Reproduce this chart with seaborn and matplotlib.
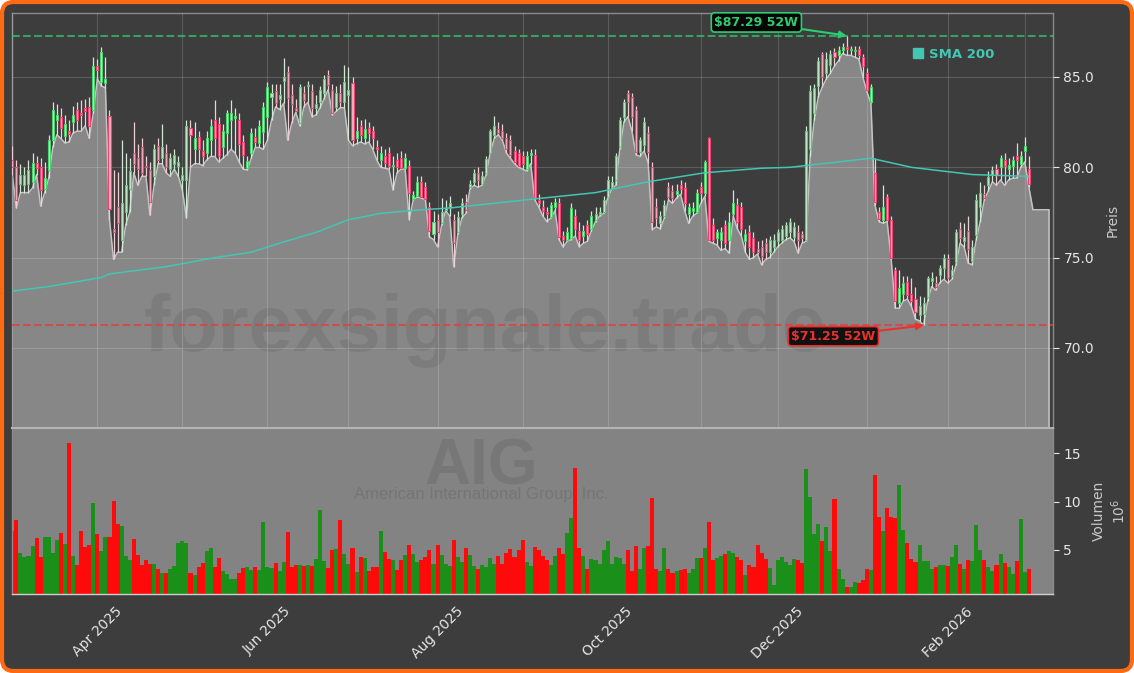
import numpy as np
import pandas as pd
import matplotlib
matplotlib.use("Agg")
import matplotlib.pyplot as plt
import seaborn as sns
from matplotlib.patches import FancyBboxPatch
from matplotlib.lines import Line2D
from matplotlib.ticker import FormatStrFormatter

# ---------------- data (AIG daily, Mar 2025 - Mar 2026, trading-day index) ----------------
opens = [
    80.4, 80.0, 79.1, 79.0, 79.1, 79.2, 80.25, 80.0, 78.8, 79.85,
    81.5, 82.6, 82.8, 81.75, 82.0, 82.5, 83.2, 83.0, 83.3, 83.35,
    83.2, 85.6, 84.7, 84.65, 82.85, 76.6, 77.8, 76.0, 77.5, 78.8,
    80.8, 80.5, 81.1, 80.1, 79.85, 79.5, 81.2, 80.5, 80.8, 79.9,
    80.2, 80.1, 79.3, 79.3, 82.2, 81.0, 81.7, 80.9, 80.8, 81.5,
    82.6, 82.4, 81.1, 81.9, 82.6, 82.75, 82.6, 81.4, 79.95, 80.8,
    81.7, 81.35, 81.95, 82.8, 83.9, 84.2, 83.8, 84.8, 85.3, 84.0,
    83.3, 82.45, 84.1, 84.5, 84.2, 83.3, 83.6, 84.1, 85.1, 84.3,
    83.35, 84.1, 83.6, 84.0, 84.65, 81.6, 82.3, 81.6, 82.2, 82.0,
    81.1, 80.4, 80.6, 80.8, 80.05, 80.4, 80.5, 79.95, 80.1, 78.25,
    78.4, 79.2, 78.9, 77.8, 76.3, 77.1, 76.9, 77.65, 77.8, 77.1,
    76.4, 77.4, 78.1, 78.9, 79.2, 79.7, 79.1, 79.7, 80.8, 81.8,
    82.1, 82.0, 81.6, 81.5, 80.9, 80.8, 80.6, 79.9, 80.7, 80.7,
    78.2, 77.8, 77.5, 77.25, 77.8, 78.0, 76.2, 76.0, 76.1, 77.3,
    76.5, 76.2, 76.8, 76.6, 77.1, 77.4, 77.5, 78.35, 78.9, 79.3,
    81.1, 82.8, 84.1, 83.9, 83.2, 80.85, 81.25, 81.9, 80.0, 77.8,
    76.9, 77.3, 78.9, 78.7, 78.5, 79.0, 78.85, 77.4, 77.6, 77.5,
    78.9, 78.6, 81.6, 76.8, 76.1, 76.0, 76.8, 76.0, 77.4, 77.9,
    77.8, 75.9, 76.4, 76.1, 75.5, 75.6, 75.8, 75.3, 75.6, 75.9,
    76.0, 76.2, 76.4, 76.15, 76.4, 76.3, 76.0, 81.0, 83.0, 84.5,
    86.3, 85.2, 85.65, 86.4, 86.2, 86.5, 86.65, 86.5, 86.45, 86.55,
    86.1, 85.2, 83.6, 79.7, 77.5, 77.1, 78.35, 77.1, 74.3, 72.5,
    73.0, 73.65, 73.0, 72.7, 71.8, 71.9, 72.8, 73.7, 73.6, 74.05,
    74.4, 74.9, 74.0, 74.75, 76.6, 75.9, 76.5, 74.8, 76.25, 77.8,
    78.55, 79.0, 79.6, 79.9, 80.0, 80.4, 79.9, 80.1, 80.6, 80.2,
    80.9, 79.9]

highs = [
    81.2, 80.4, 80.2, 80.0, 80.4, 80.8, 80.6, 80.5, 80.3, 81.8,
    83.6, 83.5, 83.3, 82.9, 82.6, 83.4, 83.6, 83.7, 83.8, 83.9,
    86.1, 86.0, 86.66, 86.1, 83.2, 79.85, 79.75, 81.5, 80.8, 80.5,
    82.5, 81.3, 81.6, 80.6, 80.3, 81.3, 81.6, 82.4, 81.3, 80.8,
    81.0, 80.6, 80.0, 82.6, 82.6, 82.5, 82.0, 81.5, 82.0, 82.7,
    83.7, 82.8, 82.4, 83.2, 83.7, 83.3, 83.0, 81.8, 80.6, 82.2,
    82.2, 82.6, 83.6, 84.7, 84.6, 84.6, 84.6, 86.05, 85.6, 84.6,
    83.8, 84.6, 84.5, 84.8, 84.6, 84.0, 84.5, 85.1, 85.4, 84.6,
    84.5, 84.6, 85.66, 85.55, 85.0, 82.8, 82.6, 82.7, 82.5, 82.3,
    81.5, 81.2, 81.0, 81.1, 80.6, 80.8, 80.9, 80.8, 80.4, 78.7,
    79.5, 79.5, 79.2, 78.1, 77.6, 77.4, 78.3, 78.2, 78.4, 77.4,
    77.6, 78.3, 78.5, 79.3, 79.9, 80.0, 79.8, 80.6, 82.1, 82.85,
    82.5, 82.4, 81.9, 81.8, 81.2, 81.0, 80.9, 80.9, 81.0, 81.0,
    78.5, 78.2, 77.8, 78.1, 78.3, 78.3, 76.5, 76.7, 78.0, 77.7,
    77.0, 76.8, 77.1, 77.6, 77.8, 77.8, 78.4, 79.5, 79.5, 80.8,
    82.8, 83.8, 84.3, 84.1, 83.4, 81.7, 82.8, 82.3, 80.3, 78.3,
    77.6, 78.2, 79.2, 79.0, 79.1, 79.3, 79.2, 78.0, 78.1, 78.8,
    79.2, 80.4, 81.7, 77.2, 76.6, 76.7, 77.1, 77.5, 78.75, 78.3,
    78.1, 76.6, 76.8, 76.4, 75.9, 76.0, 76.1, 76.2, 76.3, 76.6,
    76.8, 77.0, 77.2, 77.0, 76.8, 76.5, 82.3, 84.55, 84.6, 86.1,
    86.4, 86.4, 86.5, 86.6, 86.7, 86.9, 87.29, 86.7, 86.7, 86.7,
    86.3, 85.5, 84.6, 80.5, 77.8, 79.0, 78.5, 77.3, 74.5, 74.3,
    74.0, 74.0, 73.9, 73.4, 72.9, 72.8, 74.0, 74.2, 74.0, 74.6,
    75.2, 75.2, 74.6, 76.6, 77.0, 76.9, 77.3, 76.0, 78.5, 79.2,
    79.0, 79.8, 80.1, 80.2, 80.7, 80.8, 80.5, 80.6, 81.35, 80.9,
    81.7, 80.6]

lows = [
    79.6, 77.75, 78.6, 78.6, 78.6, 78.85, 79.6, 77.85, 78.6, 79.4,
    81.1, 81.8, 81.6, 81.35, 81.4, 81.9, 82.0, 82.0, 82.3, 81.6,
    83.0, 84.9, 84.5, 84.4, 77.1, 74.9, 75.3, 75.3, 76.8, 77.5,
    79.7, 79.0, 79.5, 79.5, 77.35, 79.0, 80.2, 80.2, 79.7, 79.5,
    79.9, 79.5, 78.75, 77.2, 80.0, 80.2, 80.2, 80.1, 80.4, 80.6,
    80.6, 80.3, 80.5, 80.7, 81.0, 80.8, 80.3, 79.9, 79.85, 80.5,
    81.1, 81.1, 81.0, 81.5, 82.6, 83.35, 83.2, 83.55, 81.5, 82.45,
    83.05, 82.3, 83.35, 83.6, 82.8, 82.9, 83.3, 83.8, 84.3, 82.9,
    83.1, 83.3, 83.3, 81.5, 81.2, 81.3, 81.4, 81.3, 81.4, 81.0,
    80.4, 80.0, 79.95, 79.9, 78.75, 79.7, 79.9, 79.9, 77.1, 78.2,
    78.35, 78.3, 78.2, 76.15, 76.0, 75.6, 76.8, 77.6, 77.3, 74.5,
    76.3, 77.2, 77.45, 78.8, 79.0, 78.9, 79.0, 79.6, 80.8, 81.6,
    81.8, 81.5, 80.8, 80.5, 80.2, 80.0, 79.9, 79.8, 80.2, 78.2,
    77.8, 77.3, 77.0, 77.2, 77.6, 76.0, 75.6, 75.9, 76.0, 76.2,
    75.6, 75.8, 75.9, 76.5, 77.0, 77.3, 77.45, 78.3, 78.8, 79.0,
    81.0, 82.5, 82.8, 82.0, 80.7, 80.6, 80.9, 80.25, 76.55, 76.7,
    76.6, 77.2, 78.2, 78.0, 78.3, 78.5, 77.6, 76.9, 77.3, 77.45,
    78.0, 78.4, 75.9, 75.8, 75.7, 75.4, 75.5, 75.25, 77.3, 76.6,
    76.2, 75.3, 74.9, 75.0, 75.2, 74.6, 74.9, 75.0, 75.3, 75.6,
    75.8, 76.0, 76.1, 75.9, 75.25, 75.8, 75.9, 80.6, 82.6, 83.9,
    84.45, 84.9, 85.2, 85.6, 85.9, 86.3, 86.2, 86.2, 86.1, 86.0,
    85.0, 84.2, 83.55, 77.9, 77.0, 76.9, 77.0, 74.9, 72.2, 72.2,
    72.6, 72.7, 72.3, 71.6, 71.5, 71.25, 72.6, 73.4, 73.2, 73.6,
    73.8, 73.6, 73.8, 74.6, 75.8, 75.6, 74.7, 74.6, 76.0, 77.0,
    78.2, 78.7, 79.2, 79.0, 79.3, 79.0, 79.3, 79.4, 79.4, 80.0,
    80.3, 78.9]

closes = [
    80.0, 78.2, 79.6, 79.6, 79.85, 80.25, 79.95, 78.75, 79.4, 81.5,
    83.2, 82.9, 82.2, 82.4, 81.85, 82.9, 82.6, 82.9, 83.1, 82.3,
    85.6, 85.4, 86.4, 84.9, 77.7, 76.4, 76.9, 78.0, 79.0, 79.8,
    80.2, 79.9, 79.7, 80.0, 78.1, 81.0, 80.4, 81.1, 80.0, 80.5,
    80.7, 80.3, 79.6, 82.3, 81.8, 81.6, 81.0, 80.6, 81.6, 82.3,
    81.6, 80.6, 82.0, 83.0, 83.0, 82.85, 81.3, 80.7, 80.35, 81.9,
    81.4, 82.3, 83.35, 84.45, 84.1, 83.55, 84.0, 85.0, 83.85, 83.5,
    83.1, 84.45, 83.7, 84.55, 83.3, 83.5, 84.3, 84.9, 84.55, 83.0,
    84.1, 83.6, 84.7, 84.3, 81.5, 82.0, 81.8, 82.1, 81.9, 81.6,
    81.0, 80.8, 80.25, 80.1, 80.15, 80.0, 79.95, 80.5, 78.6, 78.45,
    79.2, 78.35, 78.25, 76.5, 77.0, 76.4, 77.5, 77.75, 78.0, 75.8,
    77.25, 78.0, 77.65, 79.1, 79.7, 79.3, 79.5, 80.45, 82.0, 82.3,
    81.9, 81.6, 81.0, 80.7, 80.3, 80.1, 80.2, 80.6, 80.8, 78.3,
    78.0, 77.6, 77.4, 77.9, 78.1, 76.15, 76.0, 76.4, 77.75, 76.6,
    76.0, 76.5, 76.3, 77.3, 77.4, 77.55, 78.2, 79.3, 79.2, 80.6,
    82.6, 83.6, 83.6, 82.8, 80.85, 81.5, 82.5, 80.85, 77.0, 77.2,
    77.3, 77.9, 78.35, 78.3, 78.7, 78.8, 78.0, 77.8, 77.75, 78.6,
    78.6, 80.3, 76.0, 76.0, 76.4, 76.4, 75.8, 77.0, 78.0, 77.0,
    76.6, 76.3, 75.6, 75.3, 75.3, 75.1, 75.3, 76.0, 76.0, 76.4,
    76.6, 76.8, 77.0, 76.7, 76.0, 76.1, 82.0, 84.2, 84.4, 85.9,
    85.0, 86.0, 86.3, 86.1, 86.5, 86.65, 86.55, 86.55, 86.5, 86.2,
    85.6, 84.3, 84.45, 78.1, 77.15, 77.8, 77.1, 75.0, 72.6, 73.3,
    73.6, 72.95, 72.6, 72.0, 72.3, 72.5, 73.9, 73.9, 73.4, 74.4,
    75.0, 73.9, 74.3, 76.4, 76.1, 76.15, 75.5, 75.6, 78.2, 78.6,
    78.3, 79.45, 79.85, 79.6, 80.5, 80.1, 80.15, 80.4, 80.4, 80.6,
    81.2, 79.1]

volumes = [  # millions of shares
    7.0, 8.1, 4.7, 4.27, 4.4, 5.4, 6.2, 4.3, 6.3, 6.3,
    4.7, 6.0, 6.8, 5.65, 16.0, 4.4, 3.44, 7.0, 5.3, 5.5,
    9.8, 6.7, 4.9, 6.3, 6.35, 10.1, 7.7, 7.5, 4.4, 3.96,
    6.1, 4.5, 3.44, 3.96, 3.6, 3.6, 3.05, 2.6, 2.6, 3.05,
    3.33, 5.77, 5.94, 5.7, 2.6, 2.4, 3.26, 3.7, 4.9, 5.24,
    3.26, 4.2, 2.8, 2.47, 2.05, 2.05, 2.6, 3.15, 3.26, 2.9,
    3.26, 2.9, 7.85, 3.26, 3.15, 3.7, 2.8, 3.8, 6.9, 3.26,
    3.44, 3.44, 3.33, 3.4, 3.33, 4.1, 9.17, 3.85, 3.15, 5.0,
    5.1, 8.1, 4.6, 3.5, 5.24, 2.7, 4.3, 4.2, 2.8, 3.26,
    3.26, 7.0, 4.8, 4.1, 3.96, 2.9, 4.0, 4.5, 5.5, 4.6,
    3.8, 4.0, 4.3, 5.0, 3.6, 5.5, 4.5, 3.5, 3.3, 6.0,
    4.3, 3.8, 5.2, 4.5, 3.3, 3.0, 3.4, 3.2, 4.2, 3.6,
    4.4, 3.5, 4.7, 5.1, 4.3, 5.0, 6.0, 3.8, 3.3, 5.3,
    5.0, 4.4, 4.0, 3.4, 4.4, 5.2, 4.6, 6.8, 8.3, 13.5,
    5.2, 4.4, 3.0, 4.1, 4.0, 3.6, 5.0, 5.9, 3.5, 4.3,
    4.2, 3.6, 5.0, 2.8, 5.4, 3.0, 5.2, 5.4, 10.4, 3.0,
    2.8, 5.2, 3.0, 2.6, 2.8, 2.9, 3.0, 2.6, 3.0, 4.2,
    4.2, 5.24, 7.9, 3.96, 4.2, 4.4, 4.6, 4.9, 4.65, 4.27,
    3.96, 2.4, 3.44, 3.26, 5.5, 4.65, 4.1, 3.15, 1.35, 3.96,
    4.27, 3.8, 3.44, 4.1, 4.0, 3.7, 13.4, 10.5, 6.7, 7.7,
    5.94, 7.4, 4.9, 10.3, 3.0, 1.95, 1.15, 1.15, 1.7, 1.6,
    1.9, 3.0, 2.9, 12.7, 8.4, 7.0, 9.3, 8.4, 8.3, 11.67,
    7.1, 5.7, 4.1, 3.8, 5.5, 3.9, 3.9, 3.0, 3.23, 3.44,
    3.4, 3.33, 4.27, 5.5, 3.5, 3.05, 3.96, 3.85, 7.6, 5.0,
    3.96, 3.26, 2.8, 3.44, 4.55, 3.7, 3.26, 2.47, 3.85, 8.2,
    2.7, 3.0]

# area continues flat after the last candle
tail_idx = [252, 253, 254, 255, 256]
tail_lows = [77.65, 77.65, 77.65, 77.65, 77.65]

# 200-day simple moving average
sma_idx = [0, 9, 22, 24, 38, 50, 59, 67, 75, 83, 91, 98, 108, 129, 144, 157, 171, 185, 192, 212, 222, 237, 251]
sma_vals = [73.15, 73.4, 73.9, 74.1, 74.5, 75.0, 75.3, 75.87, 76.4, 77.1, 77.45, 77.6, 77.75, 78.25,
            78.6, 79.2, 79.7, 79.95, 80.0, 80.5, 80.0, 79.6, 79.5]

month_ticks = [0, 21, 42, 63, 83, 105, 126, 147, 170, 189, 211, 231, 250]
month_labels = ["", "Apr 2025", "", "Jun 2025", "", "Aug 2025", "", "Oct 2025", "", "Dec 2025", "", "Feb 2026", ""]

# ---------------- styling ----------------
sns.set_style("dark")
plt.rcParams['font.family'] = ['DejaVu Sans']

BG = '#3d3d3d'
AREA = '#878787'
TEAL = '#43c6b4'
GREEN_T = '#2ecc71'
RED_T = '#e8322e'
TXT = '#e6e6e6'

df = pd.DataFrame(dict(i=np.arange(len(closes)), o=opens, h=highs, l=lows, c=closes, v=volumes))
up = (df.c >= df.o).values

YMIN, YMAX = 65.57, 88.57

fig = plt.figure(figsize=(11.34, 6.73), dpi=100, facecolor='white')
fig.patches.append(FancyBboxPatch((0.0018, 0.003), 0.9964, 0.994,
                                  boxstyle='round,pad=0,rounding_size=0.01',
                                  mutation_aspect=1134 / 673,
                                  transform=fig.transFigure, fc=BG, ec='#ff6a13', lw=3, zorder=-10))

Lf, Rf = 12 / 1134, 1053 / 1134
ax = fig.add_axes([Lf, 1 - 428 / 673, Rf - Lf, (428 - 12.5) / 673])
axv = fig.add_axes([Lf, 1 - 594 / 673, Rf - Lf, (594 - 428) / 673])
for a in (ax, axv):
    a.set_xlim(-0.07, 256.95)

# ---------------- price panel ----------------
ax.set_facecolor(BG)
ax.set_ylim(YMIN, YMAX)
x_area = list(df.i) + tail_idx
y_area = list(df.l) + tail_lows
ax.fill_between(x_area, y_area, YMIN, color=AREA, lw=0, zorder=1)
ax.plot(x_area, y_area, color='#c4c4c4', lw=1.1, zorder=1.2)
ax.vlines(tail_idx[-1], YMIN, tail_lows[-1], color='#c4c4c4', lw=1.1, zorder=1.2)

ax.set_xticks(month_ticks)
ax.set_axisbelow(False)
ax.grid(True, color='white', alpha=0.16, lw=0.8)

# watermark
ax.text(0.454, 0.186, 'forexsignale.trade', transform=ax.transAxes, ha='center', va='baseline',
        fontsize=57, fontweight='bold', family='Liberation Sans', color='black', alpha=0.08, zorder=2.2)

# 52-week high / low
high52 = float(df.h.max()); ih = int(df.h.idxmax())
low52 = float(df.l.min()); il = int(df.l.idxmin())
ax.axhline(high52, color=GREEN_T, ls='--', lw=1.5, alpha=0.7, zorder=2.6)
ax.axhline(low52, color='#e04040', ls='--', lw=1.5, alpha=0.8, zorder=2.6)

# candles
wick_cols = np.where(up, '#d2e8d5', '#f0cdd5')
edge_cols = np.where(up, '#4cd36d', '#f2426f')
face_cols = np.where(up, '#cfe6d1', '#f3b3c3')
ax.vlines(df.i, df.l, df.h, colors=wick_cols, lw=0.9, zorder=3)
body_bot = np.minimum(df.o, df.c)
body_h = np.maximum((df.c - df.o).abs(), 0.06)
ax.bar(df.i, body_h, bottom=body_bot, width=0.5, color=face_cols, edgecolor=edge_cols,
       linewidth=0.8, zorder=3.5)

# SMA 200
sns.lineplot(x=sma_idx, y=sma_vals, ax=ax, color=TEAL, linewidth=1.1, zorder=4)

ax.annotate(f'${high52:.2f} 52W', xy=(ih, high52), xytext=(-65, 9.5), textcoords='offset points',
            ha='center', va='center', color=GREEN_T, fontsize=9, fontweight='bold',
            bbox=dict(boxstyle='round,pad=0.25', fc='#050505', ec=GREEN_T, lw=1.2),
            arrowprops=dict(arrowstyle='-|>', color=GREEN_T, lw=1.5, mutation_scale=10,
                            shrinkA=0, shrinkB=0), zorder=6)
ax.annotate(f'${low52:.2f} 52W', xy=(il, low52), xytext=(-65, -7.8), textcoords='offset points',
            ha='center', va='center', color=RED_T, fontsize=9, fontweight='bold',
            bbox=dict(boxstyle='round,pad=0.25', fc='#111111', ec=RED_T, lw=1.2),
            arrowprops=dict(arrowstyle='-|>', color=RED_T, lw=1.5, mutation_scale=10,
                            shrinkA=0, shrinkB=0), zorder=6)

leg = ax.legend(handles=[Line2D([0], [0], marker='s', ls='', color=TEAL, markersize=7)],
                labels=['SMA 200'], loc='center left', bbox_to_anchor=(0.865, 0.899),
                frameon=False, borderpad=0, borderaxespad=0, handlelength=0.9, handletextpad=0.35,
                prop={'weight': 'bold', 'size': 9.5})
for t in leg.get_texts():
    t.set_color(TEAL)

ax.yaxis.tick_right()
ax.yaxis.set_label_position('right')
ax.set_yticks([70, 75, 80, 85])
ax.yaxis.set_major_formatter(FormatStrFormatter('%.1f'))
ax.tick_params(axis='y', colors=TXT, labelsize=10, length=4, width=0.8, labelcolor=TXT)
ax.tick_params(axis='x', length=0, labelbottom=False)
ax.set_ylabel('Preis', color='#c8c8c8', fontsize=10, labelpad=8)
for s in ax.spines.values():
    s.set_color('#8a8a8a'); s.set_linewidth(1.0)

# ---------------- volume panel ----------------
axv.set_facecolor('#838383')
vol_cols = np.where(up, '#1a8f1a', '#ff0a0a')
axv.bar(df.i, df.v, width=1.0, color=vol_cols, linewidth=0, zorder=2)
axv.set_ylim(0.45, df.v.max() * 1.1)
axv.text(0.451, 0.662, 'AIG', transform=axv.transAxes, ha='center', va='baseline', fontsize=46,
         fontweight='bold', family='Liberation Sans', color='black', alpha=0.085, zorder=1)
axv.text(0.451, 0.575, 'American International Group, Inc.', transform=axv.transAxes, ha='center',
         va='baseline', fontsize=12, family='Liberation Sans', color='black', alpha=0.1, zorder=1)
axv.yaxis.tick_right()
axv.yaxis.set_label_position('right')
axv.set_yticks([5, 10, 15])
axv.set_xticks(month_ticks)
axv.set_xticklabels(month_labels, rotation=45)
axv.tick_params(axis='both', colors=TXT, labelsize=10, length=4, width=0.8, labelcolor=TXT)
axv.set_ylabel('Volumen\n$10^6$', color='#c8c8c8', fontsize=10, labelpad=8)
axv.grid(False)
for s in axv.spines.values():
    s.set_color('#8a8a8a'); s.set_linewidth(1.0)
axv.spines['top'].set_color('#b4b4b4'); axv.spines['top'].set_linewidth(1.5)
axv.spines['bottom'].set_color('#cfcfcf')

fig.savefig('out.png', dpi=100, facecolor=fig.get_facecolor())
